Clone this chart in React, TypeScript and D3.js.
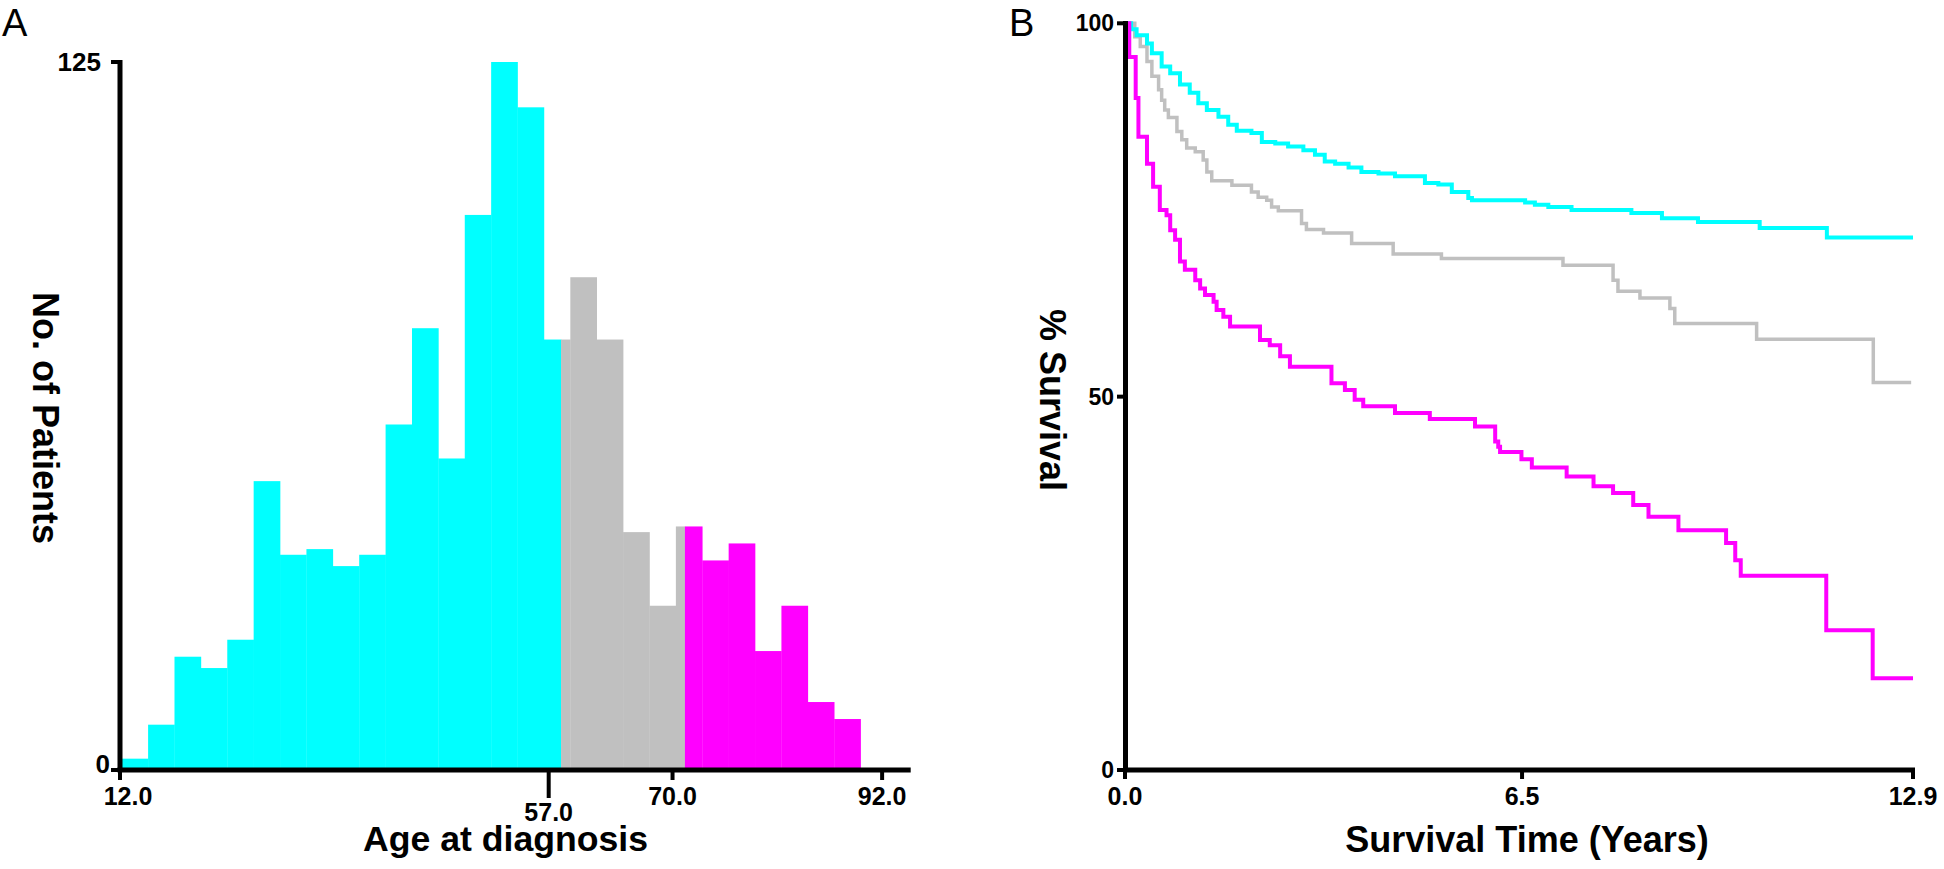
import React from "react";
import * as d3 from "d3";

// ---- panel A: age at diagnosis histogram ----
const binEdges = [
  12.18, 14.95, 17.72, 20.49, 23.26, 26.03, 28.8, 31.57, 34.34, 37.11, 39.88,
  42.65, 45.42, 48.19, 50.96, 53.73, 56.5, 59.27, 62.04, 64.81, 67.58, 70.35,
  73.12, 75.89, 78.66, 81.43, 84.2, 86.97, 89.74,
];
const binCounts = [
  2, 8, 20, 18, 23, 51, 38, 39, 36, 38, 61, 78, 55, 98, 125, 117, 76, 87, 76,
  42, 29, 43, 37, 40, 21, 29, 12, 9,
];
// age cut points between the three groups
const groupCuts = [58.3, 71.3];
const groupColors = ["#00ffff", "#c0c0c0", "#ff00ff"];
const ageTicks = [12, 57, 70, 92];
const ageTickLabels = ["12.0", "57.0", "70.0", "92.0"];
const countTicks = [0, 125];

// ---- panel B: Kaplan-Meier curves ----
const cyanTimes = [
  0, 0.1, 0.19, 0.36, 0.44, 0.6, 0.74, 0.9, 1.06, 1.2, 1.34, 1.53, 1.69, 1.83,
  2.07, 2.24, 2.46, 2.67, 2.92, 3.11, 3.27, 3.44, 3.66, 3.87, 4.15, 4.42, 4.91,
  5.13, 5.35, 5.62, 5.68, 6.55, 6.71, 6.93, 7.31, 8.29, 8.79, 9.38, 10.39, 11.49,
];
const cyanSurv = [
  100, 99.2, 98.4, 97.3, 96.0, 94.2, 93.3, 91.8, 90.7, 89.3, 88.4, 87.5, 86.4,
  85.6, 85.3, 84.1, 83.9, 83.5, 83.0, 82.4, 81.5, 81.2, 80.7, 80.1, 79.9, 79.5,
  78.6, 78.4, 77.4, 76.6, 76.3, 76.0, 75.7, 75.4, 75.0, 74.6, 73.9, 73.4, 72.6,
  71.3,
];
const grayTimes = [
  0, 0.16, 0.25, 0.36, 0.44, 0.55, 0.6, 0.65, 0.71, 0.85, 0.93, 1.01, 1.15,
  1.28, 1.34, 1.42, 1.75, 2.07, 2.18, 2.32, 2.4, 2.51, 2.89, 2.97, 3.25, 3.71,
  4.39, 5.18, 7.17, 7.99, 8.07, 8.43, 8.92, 9.0, 10.34, 12.25,
];
const graySurv = [
  100, 98.2, 96.9, 94.9, 92.9, 91.1, 89.7, 88.4, 87.4, 85.5, 84.4, 83.3, 82.8,
  81.7, 80.1, 78.9, 78.3, 77.4, 76.7, 76.3, 75.4, 74.9, 73.2, 72.4, 71.9, 70.5,
  69.1, 68.5, 67.6, 65.6, 64.1, 63.2, 61.8, 59.8, 57.7, 51.9,
];
const magentaTimes = [
  0, 0.07, 0.175, 0.22, 0.36, 0.46, 0.57, 0.68, 0.74, 0.82, 0.9, 0.98, 1.15,
  1.23, 1.31, 1.45, 1.5, 1.61, 1.72, 2.21, 2.37, 2.54, 2.7, 3.38, 3.6, 3.76,
  3.9, 4.42, 4.99, 5.73, 6.06, 6.11, 6.14, 6.49, 6.66, 7.23, 7.67, 7.99, 8.32,
  8.57, 9.06, 9.84, 9.99, 10.08, 11.48, 12.24,
];
const magentaSurv = [
  100, 95.5, 90.0, 84.8, 81.2, 78.1, 75.0, 74.3, 72.3, 71.0, 68.1, 67.0, 65.6,
  64.5, 63.6, 62.7, 61.6, 60.7, 59.4, 57.6, 56.9, 55.4, 54.0, 51.8, 50.9, 49.6,
  48.7, 47.8, 47.0, 46.0, 44.0, 43.3, 42.6, 41.6, 40.5, 39.3, 38.0, 37.1, 35.5,
  33.9, 32.1, 30.4, 28.1, 26.0, 18.7, 12.3,
];
const curveEnds = { cyan: 12.9, gray: 12.87, magenta: 12.9 };
const timeTicks = [0, 6.5, 12.9];
const timeTickLabels = ["0.0", "6.5", "12.9"];
const survTicks = [0, 50, 100];

const W = 1944;
const H = 869;
const FONT = "'Liberation Sans', Arial, sans-serif";
const AXIS_W = 5;

const xA = d3.scaleLinear().domain([12, 95]).range([120, 910.7]);
const yA = d3.scaleLinear().domain([0, 125]).range([770, 62]);
const xB = d3.scaleLinear().domain([0, 12.9]).range([1125, 1913]);
const yB = d3.scaleLinear().domain([0, 100]).range([770, 23.3]);

const stepLine = d3
  .line<[number, number]>()
  .x((d) => xB(d[0]))
  .y((d) => yB(d[1]))
  .curve(d3.curveStepAfter);

function kmPath(times: number[], surv: number[], end: number) {
  const pts: [number, number][] = times.map((t, i) => [t, surv[i]]);
  pts.push([end, surv[surv.length - 1]]);
  return stepLine(pts) || "";
}

export default function App() {
  // split each histogram bin across the colour groups
  const groupBounds = [-Infinity, ...groupCuts, Infinity];
  const bars: { x0: number; x1: number; n: number; color: string }[] = [];
  binCounts.forEach((n, i) => {
    const e0 = binEdges[i];
    const e1 = binEdges[i + 1];
    groupColors.forEach((color, g) => {
      const a = Math.max(e0, groupBounds[g]);
      const b = Math.min(e1, groupBounds[g + 1]);
      if (b > a) bars.push({ x0: a, x1: b, n, color });
    });
  });

  const curves = [
    { d: kmPath(grayTimes, graySurv, curveEnds.gray), color: "#c0c0c0", w: 3.5 },
    { d: kmPath(cyanTimes, cyanSurv, curveEnds.cyan), color: "#00ffff", w: 4 },
    { d: kmPath(magentaTimes, magentaSurv, curveEnds.magenta), color: "#ff00ff", w: 4 },
  ];

  return (
    <svg
      width={W}
      height={H}
      style={{ position: "absolute", left: 0, top: 0, background: "#fff" }}
    >
      {/* panel labels */}
      <text x={2} y={36} fontFamily={FONT} fontSize={38}>
        A
      </text>
      <text x={1009} y={36} fontFamily={FONT} fontSize={38}>
        B
      </text>

      {/* ---------- panel A ---------- */}
      <g>
        {bars.map((b, i) => (
          <rect
            key={i}
            x={xA(b.x0)}
            y={yA(b.n)}
            width={xA(b.x1) - xA(b.x0) + 0.3}
            height={yA(0) - yA(b.n)}
            fill={b.color}
          />
        ))}
        <line x1={120} x2={120} y1={60} y2={772} stroke="#000" strokeWidth={AXIS_W} />
        <line x1={117.5} x2={xA(95)} y1={770} y2={770} stroke="#000" strokeWidth={AXIS_W} />
        {countTicks.map((v) => (
          <g key={v}>
            <line x1={111} x2={120} y1={yA(v)} y2={yA(v)} stroke="#000" strokeWidth={4} />
            <text
              x={v === 0 ? 110 : 101}
              y={yA(v) + (v === 0 ? 3 : 9)}
              textAnchor="end"
              fontFamily={FONT}
              fontWeight="bold"
              fontSize={26}
            >
              {v}
            </text>
          </g>
        ))}
        {ageTicks.map((v, i) => {
          const long = v === 57;
          return (
            <g key={v}>
              <line
                x1={xA(v)}
                x2={xA(v)}
                y1={770}
                y2={long ? 798 : 780}
                stroke="#000"
                strokeWidth={4}
              />
              <text
                x={xA(v) + (i === 0 ? 8 : 0)}
                y={long ? 821 : 805}
                textAnchor="middle"
                fontFamily={FONT}
                fontWeight="bold"
                fontSize={25}
              >
                {ageTickLabels[i]}
              </text>
            </g>
          );
        })}
        <text
          transform="translate(33,418) rotate(90)"
          textAnchor="middle"
          fontFamily={FONT}
          fontWeight="bold"
          fontSize={36}
        >
          No. of Patients
        </text>
        <text
          x={363}
          y={851}
          fontFamily={FONT}
          fontWeight="bold"
          fontSize={35}
          textLength={285}
          lengthAdjust="spacingAndGlyphs"
        >
          Age at diagnosis
        </text>
      </g>

      {/* ---------- panel B ---------- */}
      <g>
        {curves.map((c, i) => (
          <path
            key={i}
            d={c.d}
            fill="none"
            stroke={c.color}
            strokeWidth={c.w}
            strokeLinejoin="miter"
          />
        ))}
        <line x1={1125.5} x2={1125.5} y1={21} y2={772} stroke="#000" strokeWidth={AXIS_W} />
        <line x1={1123} x2={1915} y1={770} y2={770} stroke="#000" strokeWidth={AXIS_W} />
        {survTicks.map((v) => (
          <g key={v}>
            <line x1={1117} x2={1126} y1={yB(v)} y2={yB(v)} stroke="#000" strokeWidth={4} />
            <text
              x={1114}
              y={yB(v) + 8}
              textAnchor="end"
              fontFamily={FONT}
              fontWeight="bold"
              fontSize={23}
            >
              {v}
            </text>
          </g>
        ))}
        {timeTicks.map((v, i) => (
          <g key={v}>
            <line x1={xB(v)} x2={xB(v)} y1={770} y2={779} stroke="#000" strokeWidth={4} />
            <text
              x={xB(v)}
              y={805}
              textAnchor="middle"
              fontFamily={FONT}
              fontWeight="bold"
              fontSize={25}
            >
              {timeTickLabels[i]}
            </text>
          </g>
        ))}
        <text
          transform="translate(1040,400) rotate(90)"
          textAnchor="middle"
          fontFamily={FONT}
          fontWeight="bold"
          fontSize={36}
        >
          % Survival
        </text>
        <text
          x={1527}
          y={852}
          textAnchor="middle"
          fontFamily={FONT}
          fontWeight="bold"
          fontSize={36}
        >
          Survival Time (Years)
        </text>
      </g>
    </svg>
  );
}
